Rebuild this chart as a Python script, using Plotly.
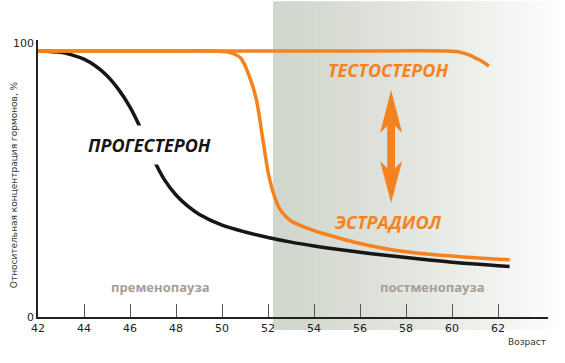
import plotly.graph_objects as go

# ---- data ----
prog_x = [42, 43, 43.5, 44, 44.5, 45, 45.5, 46, 46.5, 47, 47.5, 48, 48.5, 49, 50, 51, 52, 53, 54, 55, 56, 57, 58, 59, 60, 61, 62, 62.5]
prog_y = [97, 96.5, 95.5, 94, 91.5, 88, 83, 76.5, 68, 58, 50, 44.5, 40.5, 37.5, 33.5, 31, 29, 27.3, 25.9, 24.7, 23.6, 22.6, 21.7, 20.8, 20, 19.3, 18.7, 18.4]

estr_x = [42, 44, 46, 48, 49.5, 50.3, 50.8, 51.2, 51.5, 51.75, 52.0, 52.2, 52.5, 53.0, 54, 55, 56, 57, 58, 59, 60, 61, 62, 62.5]
estr_y = [97, 97, 97, 97, 97, 96.5, 94.5, 87.5, 79, 66, 53, 46, 39.5, 35, 31.5, 29, 26.8, 25.1, 23.8, 22.9, 22.2, 21.6, 21.1, 20.9]

test_x = [42, 45, 50, 55, 59.8, 60.2, 60.5, 60.8, 61.0, 61.2, 61.4, 61.6]
test_y = [97, 97, 97, 97, 97, 96.8, 96.2, 95.4, 94.5, 93.7, 92.7, 91.5]

x_ticks = [42, 44, 46, 48, 50, 52, 54, 56, 58, 60, 62]
y_ticks = [0, 100]

ORANGE = "#f5821f"
BLACK = "#161616"
GREY_TXT = "#a89e93"

fig = go.Figure()

fig.add_trace(go.Scatter(x=prog_x, y=prog_y, mode="lines",
                         line=dict(color=BLACK, width=3.5, shape="spline", smoothing=0.8),
                         hoverinfo="skip", showlegend=False))
fig.add_trace(go.Scatter(x=estr_x, y=estr_y, mode="lines",
                         line=dict(color=ORANGE, width=3.5, shape="spline", smoothing=0.8),
                         hoverinfo="skip", showlegend=False))
fig.add_trace(go.Scatter(x=test_x, y=test_y, mode="lines",
                         line=dict(color=ORANGE, width=3.5, shape="spline", smoothing=0.8),
                         hoverinfo="skip", showlegend=False))

# ---- gradient background (postmenopause) ----
shapes = []
x_start = 0.4608
x_end = 1.04
n = 70
c0 = (0xd2, 0xd7, 0xcd)
for i in range(n):
    t = i / (n - 1)
    f = t ** 1.3
    col = tuple(int(round(c0[k] + (255 - c0[k]) * f)) for k in range(3))
    xa = x_start + (x_end - x_start) * i / n
    xb = x_start + (x_end - x_start) * (i + 1) / n + 0.002
    shapes.append(dict(type="rect", xref="paper", yref="paper",
                       x0=xa, x1=xb, y0=-0.047, y1=1.14,
                       fillcolor="rgb(%d,%d,%d)" % col, line=dict(width=0), layer="below"))

# ---- double-headed arrow ----
cx = 57.35
hw = 0.48
sw = 0.17
def py(p):
    return (317 - p) / 2.7426
arrow = ("M {cx},{t} L {r},{bt} L {rs},{jt} L {rs},{jb} L {r},{bb} L {cx},{b} "
         "L {l},{bb} L {ls},{jb} L {ls},{jt} L {l},{bt} Z").format(
    cx=cx, t=py(90), r=cx + hw, l=cx - hw, rs=cx + sw, ls=cx - sw,
    bt=py(133), jt=py(126), jb=py(168), bb=py(161), b=py(203))
shapes.append(dict(type="path", xref="x", yref="y", path=arrow,
                   fillcolor=ORANGE, line=dict(width=0), layer="above"))

LABEL_FONT = "Open Sans"
annotations = [
    dict(x=57.2, y=py(70), text="<b><i>ТЕСТОСТЕРОН</i></b>", font=dict(color=ORANGE, size=18, family=LABEL_FONT)),
    dict(x=46.83, y=py(145), text="<b><i>ПРОГЕСТЕРОН</i></b>", font=dict(color=BLACK, size=18, family=LABEL_FONT),
         bgcolor="white", borderpad=7),
    dict(x=57.25, y=py(222), text="<b><i>ЭСТРАДИОЛ</i></b>", font=dict(color=ORANGE, size=18, family=LABEL_FONT)),
    dict(x=47.3, y=py(287), text="<b>пременопауза</b>", font=dict(color=GREY_TXT, size=13, family=LABEL_FONT)),
    dict(x=59.17, y=py(287), text="<b>постменопауза</b>", font=dict(color=GREY_TXT, size=13, family=LABEL_FONT)),
]
for a in annotations:
    a.update(xref="x", yref="y", showarrow=False, xanchor="center", yanchor="middle")

annotations.append(dict(xref="paper", yref="paper", x=1.0, y=-0.09, text="Возраст",
                        showarrow=False, xanchor="right", yanchor="middle",
                        font=dict(size=9, color="#333", family="DejaVu Sans")))
annotations.append(dict(xref="paper", yref="paper", x=-0.047, y=0.476,
                        text="Относительная концентрация гормонов, %", textangle=-90,
                        showarrow=False, xanchor="center", yanchor="middle",
                        font=dict(size=9, color="#333", family="DejaVu Sans")))

fig.update_layout(
    width=565, height=363,
    margin=dict(l=38, r=17, t=40, b=46),
    paper_bgcolor="white", plot_bgcolor="rgba(0,0,0,0)",
    shapes=shapes, annotations=annotations,
    xaxis=dict(range=[42, 64.17], tickvals=x_ticks, ticktext=[str(v) for v in x_ticks],
               ticks="inside", ticklen=13, tickwidth=1, tickcolor="#555",
               showline=True, linecolor="#222", linewidth=1.5,
               showgrid=False, zeroline=False,
               tickfont=dict(size=11, color="#222", family="DejaVu Sans")),
    yaxis=dict(range=[0, 101], tickvals=y_ticks, ticktext=[str(v) for v in y_ticks],
               ticks="", showline=True, linecolor="#222", linewidth=1.5,
               showgrid=False, zeroline=False,
               tickfont=dict(size=11, color="#222", family="DejaVu Sans")),
)

fig.write_html("out.html", config={"displayModeBar": False},
               post_script="document.body.style.margin='0';document.body.style.overflow='hidden';")
